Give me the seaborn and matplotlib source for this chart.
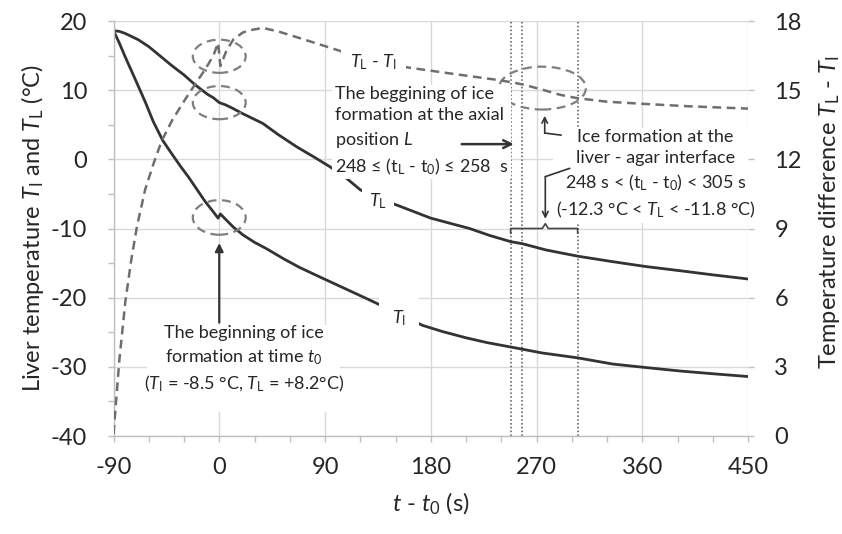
import numpy as np
import pandas as pd
import matplotlib
matplotlib.use("Agg")
import matplotlib.pyplot as plt
import seaborn as sns
from matplotlib.patches import Ellipse, Rectangle
from matplotlib.ticker import MultipleLocator

# ---------------- data ----------------
t_I = [-90, -85, -80, -70, -63, -56, -48, -40, -33, -26, -20, -12, -5, -1, 1, 5, 12, 20, 30, 40,
       55, 68, 83, 97, 111, 125, 140, 155, 173, 190, 210, 228, 247, 275, 305, 335, 363, 392, 420, 450]
T_I = [18.6, 16.8, 14.8, 11.0, 8.3, 5.4, 2.7, 0.7, -1.0, -2.6, -4.1, -6.1, -7.6, -8.5, -7.9, -8.6, -9.8, -10.9, -12.0, -12.9,
       -14.4, -15.6, -16.8, -17.9, -19.0, -20.1, -21.3, -22.6, -24.0, -24.9, -25.8, -26.5, -27.1, -28.0, -28.7, -29.6, -30.1, -30.6, -31.0, -31.4]

t_L = [-90, -85, -80, -69, -60, -50, -40, -30, -20, -10, -5, 0, 5, 10, 20, 37, 50, 66, 80, 94,
       108, 120, 135, 154, 180, 213, 230, 248, 258, 278, 305, 335, 363, 392, 420, 450]
T_L = [18.6, 18.5, 18.2, 17.3, 16.3, 14.9, 13.5, 12.2, 10.7, 9.4, 8.9, 8.2, 7.9, 7.5, 6.6, 5.2, 3.6, 1.8, 0.4, -1.05,
       -2.7, -4.4, -5.6, -6.8, -8.5, -10.0, -11.0, -11.9, -12.2, -13.1, -14.0, -14.8, -15.5, -16.1, -16.7, -17.3]

t_D = [-90, -85, -80, -75, -70, -63, -56, -49, -40, -29, -20, -12, -5, -1, 1, 6, 12, 20, 26, 37,
       50, 69, 103, 130, 161, 200, 236, 248, 258, 273, 290, 305, 330, 363, 400, 450]
D = [0.1, 3.3, 5.8, 7.6, 9.1, 10.7, 11.8, 12.8, 13.7, 14.6, 15.3, 15.9, 16.5, 17.05, 16.05, 16.7, 17.2, 17.5, 17.6, 17.7,
     17.55, 17.25, 16.7, 16.3, 15.98, 15.7, 15.45, 15.35, 15.25, 15.05, 14.8, 14.65, 14.5, 14.4, 14.3, 14.2]

ice_t = [248, 258, 305]

x_ticks = [-90, 0, 90, 180, 270, 360, 450]
yl_ticks = [-40, -30, -20, -10, 0, 10, 20]
yr_ticks = [0, 3, 6, 9, 12, 15, 18]

# ---------------- style ----------------
sns.set_theme(style="white")
plt.rcParams["font.family"] = ["Lato", "DejaVu Sans"]
plt.rcParams["mathtext.fontset"] = "custom"
plt.rcParams["mathtext.rm"] = "Lato"
plt.rcParams["mathtext.it"] = "Lato:italic"
plt.rcParams["mathtext.bf"] = "Lato:bold"

TXT = "#262626"
GRID = "#d9d9d9"
AX = "#bfbfbf"
LINE = "#333333"

fig = plt.figure(figsize=(8.42, 5.34), dpi=100)
ax = fig.add_axes([113.5 / 842, 1 - 436 / 534, (748 - 113.5) / 842, (436 - 21) / 534])
ax2 = ax.twinx()

sns.lineplot(x=t_I, y=T_I, ax=ax, color=LINE, lw=2.0, sort=False, estimator=None, legend=False, zorder=2)
sns.lineplot(x=t_L, y=T_L, ax=ax, color=LINE, lw=2.0, sort=False, estimator=None, legend=False, zorder=2)
sns.lineplot(x=t_D, y=D, ax=ax2, color="#6e6e6e", lw=1.8, sort=False, estimator=None, legend=False, zorder=2)
ax2.lines[-1].set_dashes([3.5, 2.2])

ax.set_xlim(-90, 450)
ax.set_ylim(-40, 20)
ax2.set_ylim(0, 18)
ax.set_xticks(x_ticks)
ax.set_yticks(yl_ticks)
ax2.set_yticks(yr_ticks)
ax.set_xticklabels([str(v) for v in x_ticks])
ax.set_yticklabels([str(v) for v in yl_ticks])
ax2.set_yticklabels([str(v) for v in yr_ticks])
ax.xaxis.set_minor_locator(MultipleLocator(30))
ax.yaxis.set_minor_locator(MultipleLocator(5))

ax.grid(True, which="major", color=GRID, lw=1.0, zorder=0)
ax.set_axisbelow(True)
ax2.grid(False)

for s in ["top", "right"]:
    ax.spines[s].set_visible(False)
for s in ["left", "bottom"]:
    ax.spines[s].set_color(AX)
    ax.spines[s].set_linewidth(1.0)
for s in ax2.spines.values():
    s.set_visible(False)

ax.tick_params(axis="x", which="both", bottom=True, direction="out", length=4, width=1, color=AX,
               labelsize=17, labelcolor=TXT, pad=11)
ax.tick_params(axis="y", which="both", left=True, direction="out", length=4, width=1, color=AX,
               labelsize=17, labelcolor=TXT, pad=15)
ax2.tick_params(axis="y", which="both", right=True, direction="out", length=4, width=1, color=AX,
                labelsize=17, labelcolor=TXT, pad=15)

ax.set_xlabel("$t$ - $t_0$ (s)", fontsize=17, color=TXT, labelpad=9)
ax.set_ylabel("Liver temperature $T_\\mathrm{I}$ and $T_\\mathrm{L}$ (°C)", fontsize=17, color=TXT, labelpad=3)
fig.text(830 / 842, 1 - 369 / 534, "Temperature difference $T_\\mathrm{L}$ - $T_\\mathrm{I}$",
         rotation=90, rotation_mode="anchor", ha="left", va="center", fontsize=17, color=TXT)

# dotted vertical lines
for tv in ice_t:
    ax.axvline(tv, color="#555555", ls=(0, (1, 1.5)), lw=1.1, zorder=1.5)

# dashed ellipses
ell_kw = dict(fill=False, ec="#7f7f7f", lw=1.6, ls=(0, (4, 2.5)), zorder=3)
ax.add_patch(Ellipse((0, 14.9), 45, 4.8, **ell_kw))
ax.add_patch(Ellipse((0, 8.2), 45, 4.8, **ell_kw))
ax.add_patch(Ellipse((0, -8.4), 45, 5.0, **ell_kw))
ax.add_patch(Ellipse((275, 10.3), 74, 6.2, **ell_kw))

FS = 13
# curve labels
ax.text(135, -6.1, "$T_\\mathrm{L}$", fontsize=FS, color=TXT, ha="center", va="center", zorder=4,
        bbox=dict(boxstyle="square,pad=0.4", fc="white", ec="none"))
ax.text(153, -22.9, "$T_\\mathrm{I}$", fontsize=FS, color=TXT, ha="center", va="center", zorder=4,
        bbox=dict(boxstyle="square,pad=0.7", fc="white", ec="none"))
ax2.text(131.5, 16.2, "$T_\\mathrm{L}$ - $T_\\mathrm{I}$", fontsize=FS, color=TXT, ha="center", va="center",
         zorder=4, bbox=dict(boxstyle="square,pad=0.5", fc="white", ec="none"))

# text block 1
ax.text(98.3, 10.6, "The beggining of ice\nformation at the axial\nposition $L$\n"
        "248 ≤ (t$_\\mathrm{L}$ - t$_0$) ≤ 258  s",
        fontsize=FS, color=TXT, ha="left", va="top", linespacing=1.42, zorder=4,
        bbox=dict(boxstyle="square,pad=0.15", fc="white", ec="none"))
ax.annotate("", xy=(253, 2.2), xytext=(204, 2.2),
            arrowprops=dict(arrowstyle="->", color=LINE, lw=1.8, mutation_scale=14), zorder=5)

# text block 2
ax.text(371.3, -2.2, "Ice formation at the\nliver - agar interface\n"
        "248 s < (t$_\\mathrm{L}$ - t$_0$) < 305 s\n(-12.3 °C < $T_\\mathrm{L}$ < -11.8 °C)",
        fontsize=FS, color=TXT, ha="center", va="center", multialignment="center", linespacing=1.42,
        zorder=4, bbox=dict(boxstyle="square,pad=0.15", fc="white", ec="none"))
ax.plot([291, 277], [3.5, 3.8], color=LINE, lw=1.2, zorder=5)
ax.annotate("", xy=(277, 6.3), xytext=(277, 3.8),
            arrowprops=dict(arrowstyle="->", color=LINE, lw=1.2, mutation_scale=10, shrinkA=0, shrinkB=0), zorder=5)
ax.plot([298.3, 277.5], [-1.3, -2.5], color=LINE, lw=1.2, zorder=5)
ax.annotate("", xy=(277.5, -8.6), xytext=(277.5, -2.5),
            arrowprops=dict(arrowstyle="->", color=LINE, lw=1.2, mutation_scale=10, shrinkA=0, shrinkB=0), zorder=5)
# brace
mid = (ice_t[0] + ice_t[2]) / 2 + 1
ax.plot([ice_t[0], ice_t[0], mid - 2.5, mid, mid + 2.5, ice_t[2], ice_t[2]],
        [-10.7, -10.0, -10.0, -9.3, -10.0, -10.0, -10.7], color="#444444", lw=1.2, zorder=5)

# text block 3
ax.add_patch(Rectangle((-61.5, -36.5), 164.1, 12.6, fc="white", ec="none", zorder=3.5))
ax.text(21, -29.0, "The beginning of ice\nformation at time $t_0$\n"
        "($T_\\mathrm{I}$ = -8.5 °C, $T_\\mathrm{L}$ = +8.2°C)",
        fontsize=FS, color=TXT, ha="center", va="center", multialignment="center", linespacing=1.42, zorder=4)
ax.annotate("", xy=(0, -12.1), xytext=(0, -23.6),
            arrowprops=dict(arrowstyle="-|>", color=LINE, lw=1.6, mutation_scale=12, shrinkA=0, shrinkB=0), zorder=5)

fig.savefig("out.png", dpi=100)
